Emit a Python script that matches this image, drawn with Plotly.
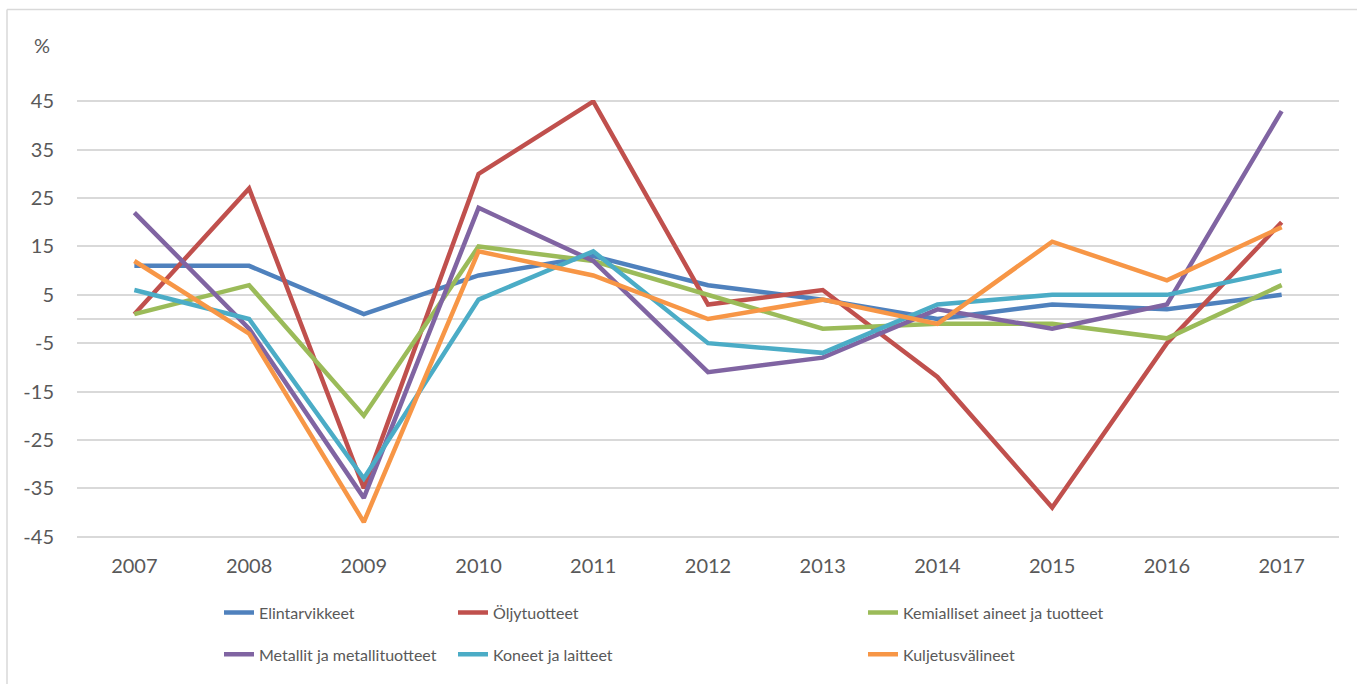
import plotly.graph_objects as go

years = [2007, 2008, 2009, 2010, 2011, 2012, 2013, 2014, 2015, 2016, 2017]
elintarvikkeet = [11, 11, 1, 9, 13, 7, 4, 0, 3, 2, 5]
oljytuotteet = [1, 27, -35, 30, 45, 3, 6, -12, -39, -5, 20]
kemialliset = [1, 7, -20, 15, 12, 5, -2, -1, -1, -4, 7]
metallit = [22, -2, -37, 23, 12, -11, -8, 2, -2, 3, 43]
koneet = [6, 0, -33, 4, 14, -5, -7, 3, 5, 5, 10]
kuljetus = [12, -3, -42, 14, 9, 0, 4, -1, 16, 8, 19]
y_ticks = [-45, -35, -25, -15, -5, 5, 15, 25, 35, 45]

series = [
    ("Elintarvikkeet", elintarvikkeet, "#4F81BD"),
    ("Öljytuotteet", oljytuotteet, "#C0504D"),
    ("Kemialliset aineet ja tuotteet", kemialliset, "#9BBB59"),
    ("Metallit ja metallituotteet", metallit, "#8064A2"),
    ("Koneet ja laitteet", koneet, "#4BACC6"),
    ("Kuljetusvälineet", kuljetus, "#F79646"),
]

W, H = 1357, 684
ML, MR, MT, MB = 77, 18, 100, 144
PW, PH = W - ML - MR, H - MT - MB
FONT = "Lato"
TXT = "#595959"


def px_x(px):
    return (px - ML) / PW


def px_y(py):
    return (H - MB - py) / PH


# legend positions (pixel) per series
leg_pos = [(219, 615), (453, 615), (863, 615), (219, 657), (453, 657), (863, 657)]

fig = go.Figure()
layout_legends = {}
for i, (name, vals, color) in enumerate(series):
    lname = "legend" if i == 0 else f"legend{i+1}"
    fig.add_trace(go.Scatter(
        x=years, y=vals, name=name, mode="lines",
        line=dict(color=color, width=4.5),
        legend=lname,
    ))
    lx, ly = leg_pos[i]
    layout_legends[lname] = dict(
        x=px_x(lx), y=px_y(ly), xanchor="left", yanchor="middle",
        xref="paper", yref="paper",
        bgcolor="rgba(0,0,0,0)", borderwidth=0,
        font=dict(family=FONT, size=16, color=TXT),
        itemclick=False, itemdoubleclick=False,
    )

fig.update_layout(
    width=W, height=H,
    margin=dict(l=ML, r=MR, t=MT, b=MB, pad=0),
    paper_bgcolor="white", plot_bgcolor="white",
    showlegend=True,
    font=dict(family=FONT, color=TXT),
    **layout_legends,
)

fig.update_xaxes(
    range=[2006.5, 2017.5],
    tickmode="array", tickvals=years, ticktext=[str(y) for y in years],
    showgrid=False, zeroline=False, showline=False, ticks="",
    tickfont=dict(family=FONT, size=20, color=TXT),
    ticklabelstandoff=14,
)
fig.update_yaxes(
    range=[-45.3, 45.3],
    tickmode="array", tickvals=y_ticks, ticktext=[str(v) for v in y_ticks],
    showgrid=True, gridcolor="#D9D9D9", gridwidth=1.5,
    zeroline=True, zerolinecolor="#D9D9D9", zerolinewidth=1.5,
    showline=False, ticks="",
    tickfont=dict(family=FONT, size=20, color=TXT),
    ticklabelstandoff=22,
)

# "%" label
fig.add_annotation(
    x=px_x(42), y=px_y(45), xref="paper", yref="paper",
    text="%", showarrow=False, xanchor="center", yanchor="middle",
    font=dict(family=FONT, size=20, color=TXT),
)

# outer chart border (left and top edges visible)
fig.add_shape(type="line", xref="paper", yref="paper",
              x0=px_x(7), x1=px_x(7), y0=px_y(9), y1=px_y(H + 5),
              line=dict(color="#D9D9D9", width=1.5), layer="below")
fig.add_shape(type="line", xref="paper", yref="paper",
              x0=px_x(7), x1=px_x(W + 5), y0=px_y(9), y1=px_y(9),
              line=dict(color="#D9D9D9", width=1.5), layer="below")

fig.write_html("out.html", config={"displayModeBar": False},
               post_script="document.body.style.margin='0';")
